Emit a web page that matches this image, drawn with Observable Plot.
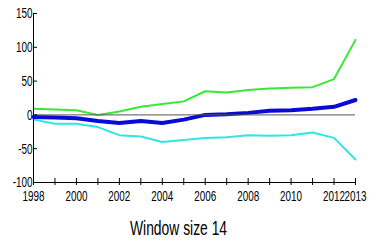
<!DOCTYPE html>
<html>
<head>
<meta charset="utf-8">
<script src="https://cdn.jsdelivr.net/npm/d3@7"></script>
<script src="https://cdn.jsdelivr.net/npm/@observablehq/plot@0.6"></script>
<style>
  html, body { margin: 0; padding: 0; background: #fff; }
  #chart { width: 376px; height: 241px; position: relative; overflow: hidden; }
  #title { position: absolute; left: 0; width: 358px; top: 217px; text-align: center; line-height: 22px; }
  #title span { display: inline-block; font-family: "Liberation Sans", Arial, sans-serif;
           font-size: 21px; color: #000; transform: scaleX(0.66); transform-origin: center; white-space: nowrap; }
</style>
</head>
<body>
<div id="chart"></div>
<script>
const years = [1998,1999,2000,2001,2002,2003,2004,2005,2006,2007,2008,2009,2010,2011,2012,2013];
const green = [9, 8, 7, 0, 5, 12, 16, 20, 35, 33, 37, 39, 40, 41, 53, 111];
const blue  = [-3, -4, -5, -9, -12, -9, -12, -7, 0, 1, 3, 6, 7, 9, 12, 22];
const cyan  = [-7, -13, -13, -18, -30, -32, -40, -37, -34, -33, -30, -31, -30, -26, -34, -66];
const yTicks = [-100, -50, 0, 50, 100, 150];
const xLabels = [1998, 2000, 2002, 2004, 2006, 2008, 2010, 2012, 2013];
const titleText = "Window size 14";

const rows = (vals) => years.map((y, i) => ({year: y, value: vals[i]}));
const font = '"Liberation Sans", Arial, sans-serif';

const plot = Plot.plot({
  width: 376,
  height: 205,
  marginLeft: 33,
  marginRight: 21,
  marginTop: 13,
  marginBottom: 23,
  style: {fontFamily: font, fontSize: "15px", color: "#000", background: "#fff", overflow: "visible"},
  x: {domain: [1998, 2013], label: null},
  y: {domain: [-100, 150], label: null},
  marks: [
    Plot.line(rows(cyan), {x: "year", y: "value", stroke: "#2ee6e6", strokeWidth: 2}),
    Plot.line(rows(green), {x: "year", y: "value", stroke: "#38e838", strokeWidth: 2}),
    Plot.line(rows(blue), {x: "year", y: "value", stroke: "#0a0ad8", strokeWidth: 4}),
    Plot.ruleY([0], {x1: 1998, x2: 2013, stroke: "#555", strokeWidth: 1}),
    Plot.ruleX([1998], {stroke: "#000"}),
    Plot.ruleY([-100], {stroke: "#000"}),
    Plot.axisX({ticks: years, tickSize: 7, dy: -4, tickFormat: () => "", stroke: "#000", label: null}),
    Plot.axisX({ticks: xLabels, tickSize: 0, tickPadding: 8, tickFormat: d => String(d), fill: "#000", label: null}),
    Plot.axisY({ticks: yTicks, tickSize: 4, dx: 4, tickFormat: () => "", stroke: "#000", label: null}),
    Plot.axisY({ticks: yTicks, tickSize: 0, tickPadding: 1, tickFormat: d => String(d), fill: "#000", label: null})
  ]
});
const chart = document.getElementById("chart");
chart.appendChild(plot);
// condense tick label glyphs to mimic a narrow font
plot.querySelectorAll("text").forEach(t => {
  const len = t.getComputedTextLength();
  if (len > 0) {
    t.setAttribute("textLength", (len * 0.66).toFixed(1));
    t.setAttribute("lengthAdjust", "spacingAndGlyphs");
  }
});
const t = document.createElement("div");
t.id = "title";
const s = document.createElement("span");
s.textContent = titleText;
t.appendChild(s);
chart.appendChild(t);
</script>
</body>
</html>
